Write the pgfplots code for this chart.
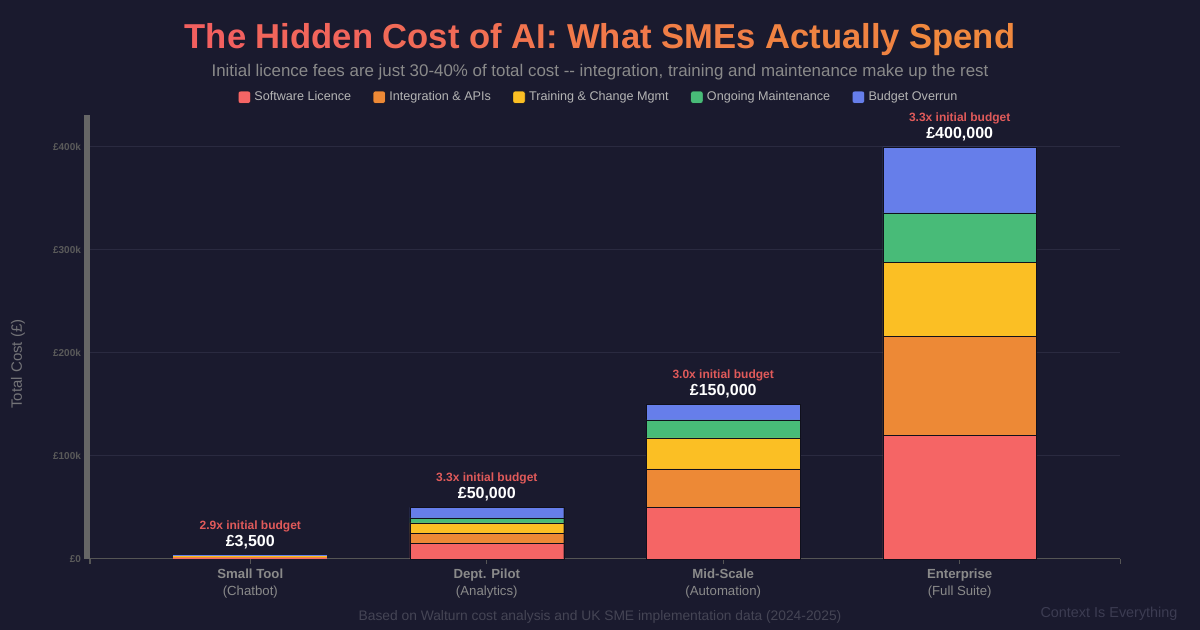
\documentclass[border=0pt]{standalone}
\usepackage{pgfplots}
\pgfplotsset{compat=1.18}
\usepackage{fontspec}
\setmainfont{Liberation Sans}

\definecolor{bg}{HTML}{1A1A2E}
\definecolor{gridc}{HTML}{2A2A40}
\definecolor{ybarc}{HTML}{666666}
\definecolor{axisc}{HTML}{555555}
\definecolor{ytl}{HTML}{5A5A5A}
\definecolor{xtl}{HTML}{8A8A8A}
\definecolor{legtext}{HTML}{B4B4B4}
\definecolor{subc}{HTML}{8A8A8A}
\definecolor{footc}{HTML}{454555}
\definecolor{markc}{HTML}{3C3C52}
\definecolor{tA}{HTML}{F2605F}
\definecolor{tB}{HTML}{F0883E}
\definecolor{ratio}{HTML}{E05A5A}
\definecolor{cRed}{HTML}{F56565}
\definecolor{cOrange}{HTML}{ED8936}
\definecolor{cYellow}{HTML}{FBBF24}
\definecolor{cGreen}{HTML}{48BB78}
\definecolor{cBlue}{HTML}{667EEA}

\newcommand{\fs}[1]{\fontsize{#1}{#1}\selectfont}

\pgfplotsset{frame/.style={
  at={(45pt,35.5pt)}, anchor=south west,
  scale only axis, width=515pt, height=222pt,
  xmin=-0.678, xmax=3.678, ymin=0, ymax=431000,
  ybar stacked, bar width=0.65}}

\begin{document}
\begin{tikzpicture}
\fill[bg] (0pt,0pt) rectangle (600pt,315pt);

\begin{axis}[
  frame, clip=false,
  axis line style={draw=none},
  xtick={0,1,2,3},
  xticklabels={
    {\textbf{Small Tool}\\(Chatbot)},
    {\textbf{Dept. Pilot}\\(Analytics)},
    {\textbf{Mid-Scale}\\(Automation)},
    {\textbf{Enterprise}\\(Full Suite)}},
  extra x ticks={-0.678,3.678}, extra x tick labels={},
  extra x tick style={grid=none},
  xtick pos=lower, tick align=outside, major tick length=2.5pt,
  xtick style={draw=axisc, line width=0.5pt},
  xticklabel style={align=center, font=\fontsize{6.6}{8.2}\selectfont, text=xtl, inner sep=2.5pt},
  ytick={0,100000,200000,300000,400000},
  yticklabels={£0,£100k,£200k,£300k,£400k},
  scaled y ticks=false,
  ytick style={draw=none},
  yticklabel style={font=\bfseries\fs{5}, text=ytl, xshift=1.5pt},
  ymajorgrids, grid style={draw=gridc, line width=0.5pt},
  legend style={at={(0.495,1.04)}, anchor=center, draw=none, fill=none,
    text=legtext, font=\fs{6.3}, legend columns=5,
    /tikz/every even column/.append style={column sep=9pt}},
  legend image code/.code={\fill[rounded corners=1pt] (0pt,-3pt) rectangle (6pt,3pt);},
  every axis plot/.append style={draw=bg!60!black, line width=0.12pt},
]
\addplot[fill=cRed] coordinates {(1,15000) (2,50000) (3,120000)};
\addlegendentry{Software Licence}
\addplot[fill=cOrange] coordinates {(1,10000) (2,37500) (3,96000)};
\addlegendentry{Integration \& APIs}
\addplot[fill=cYellow] coordinates {(1,10000) (2,30000) (3,72000)};
\addlegendentry{Training \& Change Mgmt}
\addplot[fill=cGreen] coordinates {(1,5000) (2,17500) (3,48000)};
\addlegendentry{Ongoing Maintenance}
\addplot[fill=cBlue] coordinates {(1,10000) (2,15000) (3,64000)};
\addlegendentry{Budget Overrun}

\draw[axisc, line width=0.5pt] (rel axis cs:0,0) -- (rel axis cs:1,0);
\fill[ybarc] ([xshift=-3pt]rel axis cs:0,0) rectangle (rel axis cs:0,1);

\node[font=\bfseries\fs{8}, text=white] at ([yshift=6.5pt]axis cs:0,3500) {£3,500};
\node[font=\bfseries\fs{6}, text=ratio] at ([yshift=14.5pt]axis cs:0,3500) {2.9x initial budget};
\node[font=\bfseries\fs{8}, text=white] at ([yshift=6.5pt]axis cs:1,50000) {£50,000};
\node[font=\bfseries\fs{6}, text=ratio] at ([yshift=14.5pt]axis cs:1,50000) {3.3x initial budget};
\node[font=\bfseries\fs{8}, text=white] at ([yshift=6.5pt]axis cs:2,150000) {£150,000};
\node[font=\bfseries\fs{6}, text=ratio] at ([yshift=14.5pt]axis cs:2,150000) {3.0x initial budget};
\node[font=\bfseries\fs{8}, text=white] at ([yshift=6.5pt]axis cs:3,400000) {£400,000};
\node[font=\bfseries\fs{6}, text=ratio] at ([yshift=14.5pt]axis cs:3,400000) {3.3x initial budget};
\end{axis}

% Small Tool stack: too thin for segment outlines, drawn unoutlined
\begin{axis}[frame, hide axis, every axis plot/.append style={draw=none}]
\addplot[fill=cRed] coordinates {(0,1200)};
\addplot[fill=cOrange] coordinates {(0,800)};
\addplot[fill=cYellow] coordinates {(0,600)};
\addplot[fill=cGreen] coordinates {(0,400)};
\addplot[fill=cBlue] coordinates {(0,500)};
\end{axis}

\node[font=\bfseries\fs{17.3}] at (300pt,295pt) {%
  \textcolor{tA}{The} \textcolor{tB!12!tA}{Hidden} \textcolor{tB!25!tA}{Cost}
  \textcolor{tB!37!tA}{of} \textcolor{tB!50!tA}{AI:} \textcolor{tB!62!tA}{What}
  \textcolor{tB!75!tA}{SMEs} \textcolor{tB!87!tA}{Actually} \textcolor{tB}{Spend}};
\node[font=\fs{8.45}, text=subc] at (300pt,279pt)
  {Initial licence fees are just 30-40\% of total cost -{}- integration, training and maintenance make up the rest};
\node[font=\fs{7.5}, text=xtl!80!bg, rotate=90] at (9pt,133pt) {Total Cost (£)};
\node[font=\fs{6.9}, text=footc] at (300pt,6.5pt)
  {Based on Walturn cost analysis and UK SME implementation data (2024-2025)};
\node[font=\fs{7.2}, text=markc] at (554.5pt,8pt) {Context Is Everything};

\pgfresetboundingbox
\useasboundingbox (0pt,0pt) rectangle (600pt,315pt);
\end{tikzpicture}
\end{document}
